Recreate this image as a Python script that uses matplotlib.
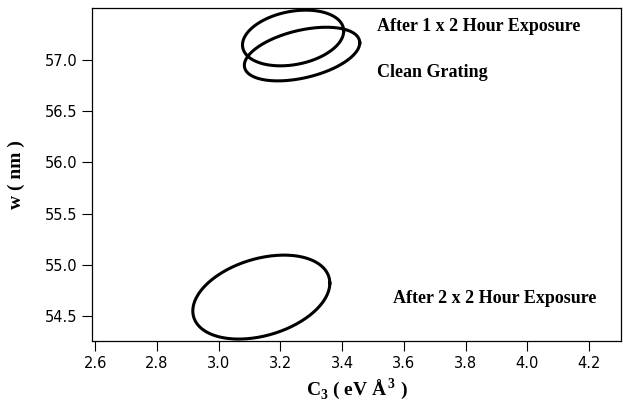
import numpy as np
import matplotlib
matplotlib.use("Agg")
import matplotlib.pyplot as plt

plt.rcParams['mathtext.fontset'] = 'custom'
plt.rcParams['mathtext.rm'] = 'Liberation Serif:bold'
plt.rcParams['mathtext.bf'] = 'Liberation Serif:bold'

# ellipse parameters (data units)
labels = ['After 1 x 2 Hour Exposure', 'Clean Grating', 'After 2 x 2 Hour Exposure']
cx = [3.241, 3.270, 3.138]
cy = [57.216, 57.059, 54.685]
sx = [0.164, 0.187, 0.222]
sy = [0.272, 0.262, 0.41]
rho = [0.25, 0.42, 0.33]
text_x = [3.512, 3.512, 3.566]
text_y = [57.33, 56.88, 54.676]

xticks = [2.6, 2.8, 3.0, 3.2, 3.4, 3.6, 3.8, 4.0, 4.2]
yticks = [54.5, 55.0, 55.5, 56.0, 56.5, 57.0]

fig = plt.figure(figsize=(6.23, 4.05), dpi=100)
ax = fig.add_axes([0.148, 0.158, 0.849, 0.822])

t = np.linspace(0, 2 * np.pi, 300)
for i in range(3):
    x = cx[i] + sx[i] * np.cos(t)
    y = cy[i] + sy[i] * (rho[i] * np.cos(t) + np.sqrt(1 - rho[i] ** 2) * np.sin(t))
    ax.plot(x, y, color='black', lw=2.2)
    ax.text(text_x[i], text_y[i], labels[i], family='Liberation Serif',
            weight='bold', fontsize=13, va='center', ha='left')

ax.set_xlim(2.59, 4.304)
ax.set_ylim(54.256, 57.508)
ax.set_xticks(xticks)
ax.set_yticks(yticks)
ax.xaxis.set_major_formatter(matplotlib.ticker.FormatStrFormatter('%.1f'))
ax.yaxis.set_major_formatter(matplotlib.ticker.FormatStrFormatter('%.1f'))
ax.tick_params(direction='out', length=7, width=0.8, labelsize=10.5, colors='black')
for s in ax.spines.values():
    s.set_linewidth(0.9)

ax.set_xlabel(r'C$_\mathbf{3}$ ( eV Å$^{\,\mathbf{3}}$ )', family='Liberation Serif',
              weight='bold', fontsize=14, labelpad=4)
ax.set_ylabel('w ( nm )', family='Liberation Serif', weight='bold', fontsize=14, labelpad=14)

fig.savefig('out.png', dpi=100)
